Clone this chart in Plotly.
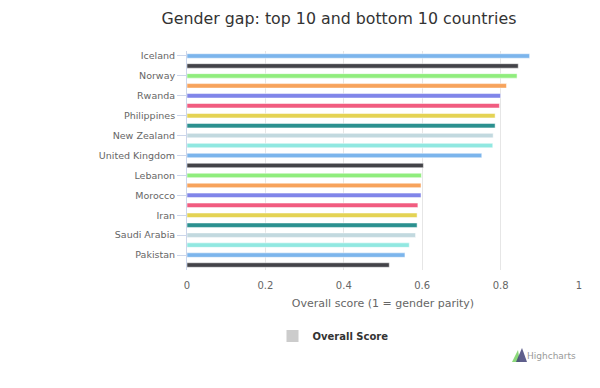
import plotly.graph_objects as go

categories = ["Iceland", "Finland", "Norway", "Sweden", "Rwanda", "Ireland",
              "Philippines", "Slovenia", "New Zealand", "Nicaragua", "United Kingdom",
              "Jordan", "Lebanon", "Côte d'Ivoire", "Morocco", "Mali", "Iran",
              "Chad", "Saudi Arabia", "Syria", "Pakistan", "Yemen"]
scores = [0.874, 0.845, 0.842, 0.815, 0.800, 0.797, 0.786, 0.786, 0.781, 0.780, 0.752,
          0.603, 0.598, 0.597, 0.597, 0.589, 0.587, 0.587, 0.583, 0.567, 0.556, 0.516]
palette = ["#7cb5ec", "#434348", "#90ed7d", "#f7a35c", "#8085e9",
           "#f15c80", "#e4d354", "#2b908f", "#c2d9df", "#91e8e1"]
shown_labels = categories[::2]
x_ticks = [0, 0.2, 0.4, 0.6, 0.8, 1]

colors = [palette[i % len(palette)] for i in range(len(categories))]

L, R, T, B = 187, 579, 51, 270
W, H = 600, 388

def px(x):
    return (x - L) / (R - L)

def py(y):
    return (B - y) / (B - T)

fig = go.Figure()
fig.add_trace(go.Bar(
    x=scores, y=categories, orientation="h",
    marker=dict(color=colors, line=dict(color="white", width=0.5)),
    width=0.45, showlegend=False,
))
fig.add_trace(go.Scatter(
    x=[None], y=[None], mode="markers", name="<b>Overall Score</b>",
    marker=dict(symbol="square", size=12, color="#cccccc"),
))

fig.update_layout(
    width=W, height=H,
    margin=dict(l=L, r=W - R, t=T, b=H - B, pad=0),
    paper_bgcolor="white", plot_bgcolor="white",
    font=dict(family="DejaVu Sans, Verdana, sans-serif", color="#666666", size=10),
    title=dict(text="Gender gap: top 10 and bottom 10 countries",
               x=339 / W, xanchor="center", xref="container",
               y=1 - 18 / H, yanchor="middle", yref="container",
               font=dict(size=15.8, color="#333333")),
    showlegend=True,
    legend=dict(orientation="h", x=px(333), xanchor="center", y=py(336), yanchor="middle",
                font=dict(size=10, color="#333333"), itemsizing="constant"),
)
fig.update_xaxes(
    range=[0, 1], tickvals=x_ticks, ticktext=[f"{v:g}" for v in x_ticks],
    showgrid=True, gridcolor="#e6e6e6", gridwidth=1, zeroline=False,
    showline=False, ticks="", ticklabelstandoff=8,
    tickfont=dict(size=10, color="#666666"),
    title=dict(text="Overall score (1 = gender parity)", standoff=9,
               font=dict(size=11, color="#666666")),
    fixedrange=True,
)
fig.update_yaxes(
    categoryorder="array", categoryarray=categories, autorange="reversed",
    tickmode="array", tickvals=shown_labels, ticktext=shown_labels,
    showgrid=False, zeroline=False, showline=True, linecolor="#ccd6eb", linewidth=1,
    ticks="outside", ticklen=9, tickcolor="#ccd6eb", tickwidth=1,
    tickfont=dict(size=9.5, color="#666666"), fixedrange=True,
)
# credits
fig.add_annotation(text="Highcharts", xref="paper", yref="paper", x=px(578), y=py(356),
                   xanchor="right", yanchor="middle", showarrow=False,
                   font=dict(size=9, color="#999999"))
fig.add_shape(type="path", xref="paper", yref="paper",
              path=f"M {px(512)},{py(362)} L {px(518)},{py(350)} L {px(520)},{py(362)} Z",
              fillcolor="#8bd97a", line=dict(width=0))
fig.add_shape(type="path", xref="paper", yref="paper",
              path=f"M {px(516)},{py(362)} L {px(522)},{py(348)} L {px(527)},{py(362)} Z",
              fillcolor="#434378", line=dict(width=0), opacity=0.85)

fig.write_html("out.html", config={"displayModeBar": False},
               post_script="document.body.style.margin='0';")
